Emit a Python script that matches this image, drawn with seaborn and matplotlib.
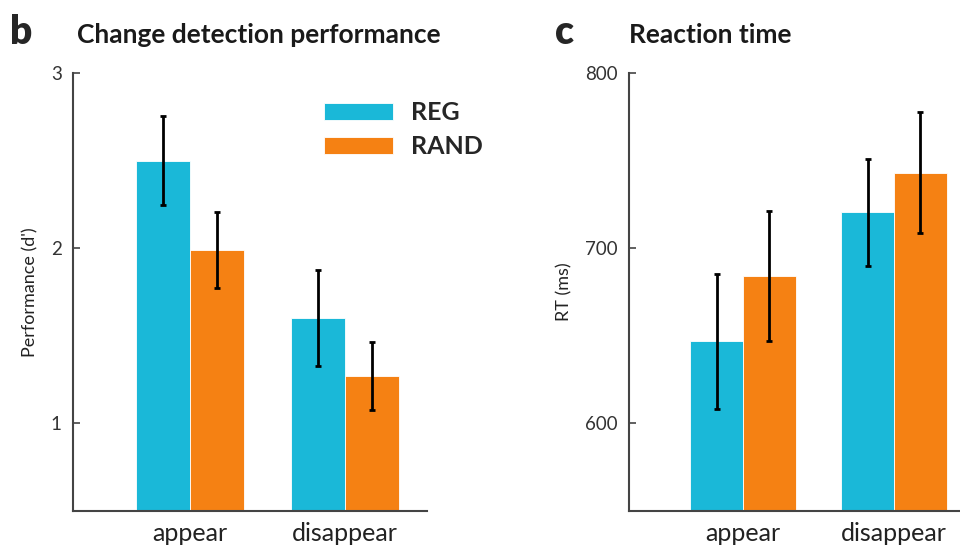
import matplotlib
matplotlib.use("Agg")
import matplotlib.pyplot as plt
import seaborn as sns
import pandas as pd
import numpy as np

conditions = ["appear", "disappear"]
groups = ["REG", "RAND"]
perf_reg = [2.50, 1.60]
perf_rand = [1.99, 1.27]
perf_err_reg = [0.256, 0.275]
perf_err_rand = [0.217, 0.195]
rt_reg = [647, 720.5]
rt_rand = [684, 743]
rt_err_reg = [38.5, 30.5]
rt_err_rand = [37, 34.5]
perf_ticks = [1, 2, 3]
rt_ticks = [600, 700, 800]

colors = {"REG": "#1AB8D8", "RAND": "#F58113"}

sns.set_theme(style="white")
plt.rcParams["font.family"] = ["Lato", "DejaVu Sans"]

fig = plt.figure(figsize=(9.6, 5.49), dpi=100)
ax1 = fig.add_axes([73/960, 1-511/549, 354/960, 438/549])
ax2 = fig.add_axes([629/960, 1-511/549, 331/960, 438/549])


def panel(ax, reg, rand, ereg, erand, ylim, ticks, ylabel):
    df = pd.DataFrame({
        "condition": conditions * 2,
        "group": ["REG"] * 2 + ["RAND"] * 2,
        "value": list(reg) + list(rand),
        "err": list(ereg) + list(erand),
    })
    sns.barplot(data=df, x="condition", y="value", hue="group",
                hue_order=groups, order=conditions, palette=colors,
                width=0.7, errorbar=None, linewidth=0.6, edgecolor="white",
                saturation=1, ax=ax, legend=True)
    for cont, g in zip(ax.containers, groups):
        sub = df[df.group == g]
        xs = [p.get_x() + p.get_width() / 2 for p in cont.patches]
        ax.errorbar(xs, sub["value"], yerr=sub["err"], fmt="none",
                    ecolor="black", elinewidth=2, capsize=2.5, capthick=2)
    ax.set_ylim(*ylim)
    ax.set_yticks(ticks)
    ax.set_yticklabels([str(t) for t in ticks], fontsize=13.5, color="#333333")
    ax.set_xlabel("")
    ax.set_ylabel(ylabel, fontsize=13, color="#222222", labelpad=9)
    ax.tick_params(axis="x", length=0, labelsize=18, labelcolor="#222222", pad=8)
    ax.tick_params(axis="y", direction="in", length=5, width=1.2,
                   color="#444444", pad=8, left=True)
    for s in ["top", "right"]:
        ax.spines[s].set_visible(False)
    for s in ["left", "bottom"]:
        ax.spines[s].set_color("#444444")
        ax.spines[s].set_linewidth(1.5)


panel(ax1, perf_reg, perf_rand, perf_err_reg, perf_err_rand,
      (0.5, 3), perf_ticks, "Performance (d')")
ax1.set_xlim(-0.755, 1.53)
leg = ax1.legend(loc="upper left", bbox_to_anchor=(0.71, 0.936), frameon=False,
                 borderpad=0, borderaxespad=0,
                 handlelength=2.75, handleheight=0.7, labelspacing=0.45,
                 handletextpad=0.7, prop={"size": 18, "weight": "bold"})

panel(ax2, rt_reg, rt_rand, rt_err_reg, rt_err_rand,
      (550, 800), rt_ticks, "RT (ms)")
ax2.set_xlim(-0.755, 1.437)
if ax2.get_legend() is not None:
    ax2.get_legend().remove()

fig.text(10/960, 1-33/549, "b", fontsize=28, fontweight="heavy", va="center", ha="left")
fig.text(77/960, 1-35/549, "Change detection performance", fontsize=19,
         fontweight="bold", va="center", ha="left", color="#1a1a1a")
fig.text(555/960, 1-33/549, "c", fontsize=28, fontweight="heavy", va="center", ha="left")
fig.text(629/960, 1-35/549, "Reaction time", fontsize=19,
         fontweight="bold", va="center", ha="left", color="#1a1a1a")

fig.savefig("out.png", dpi=100)
